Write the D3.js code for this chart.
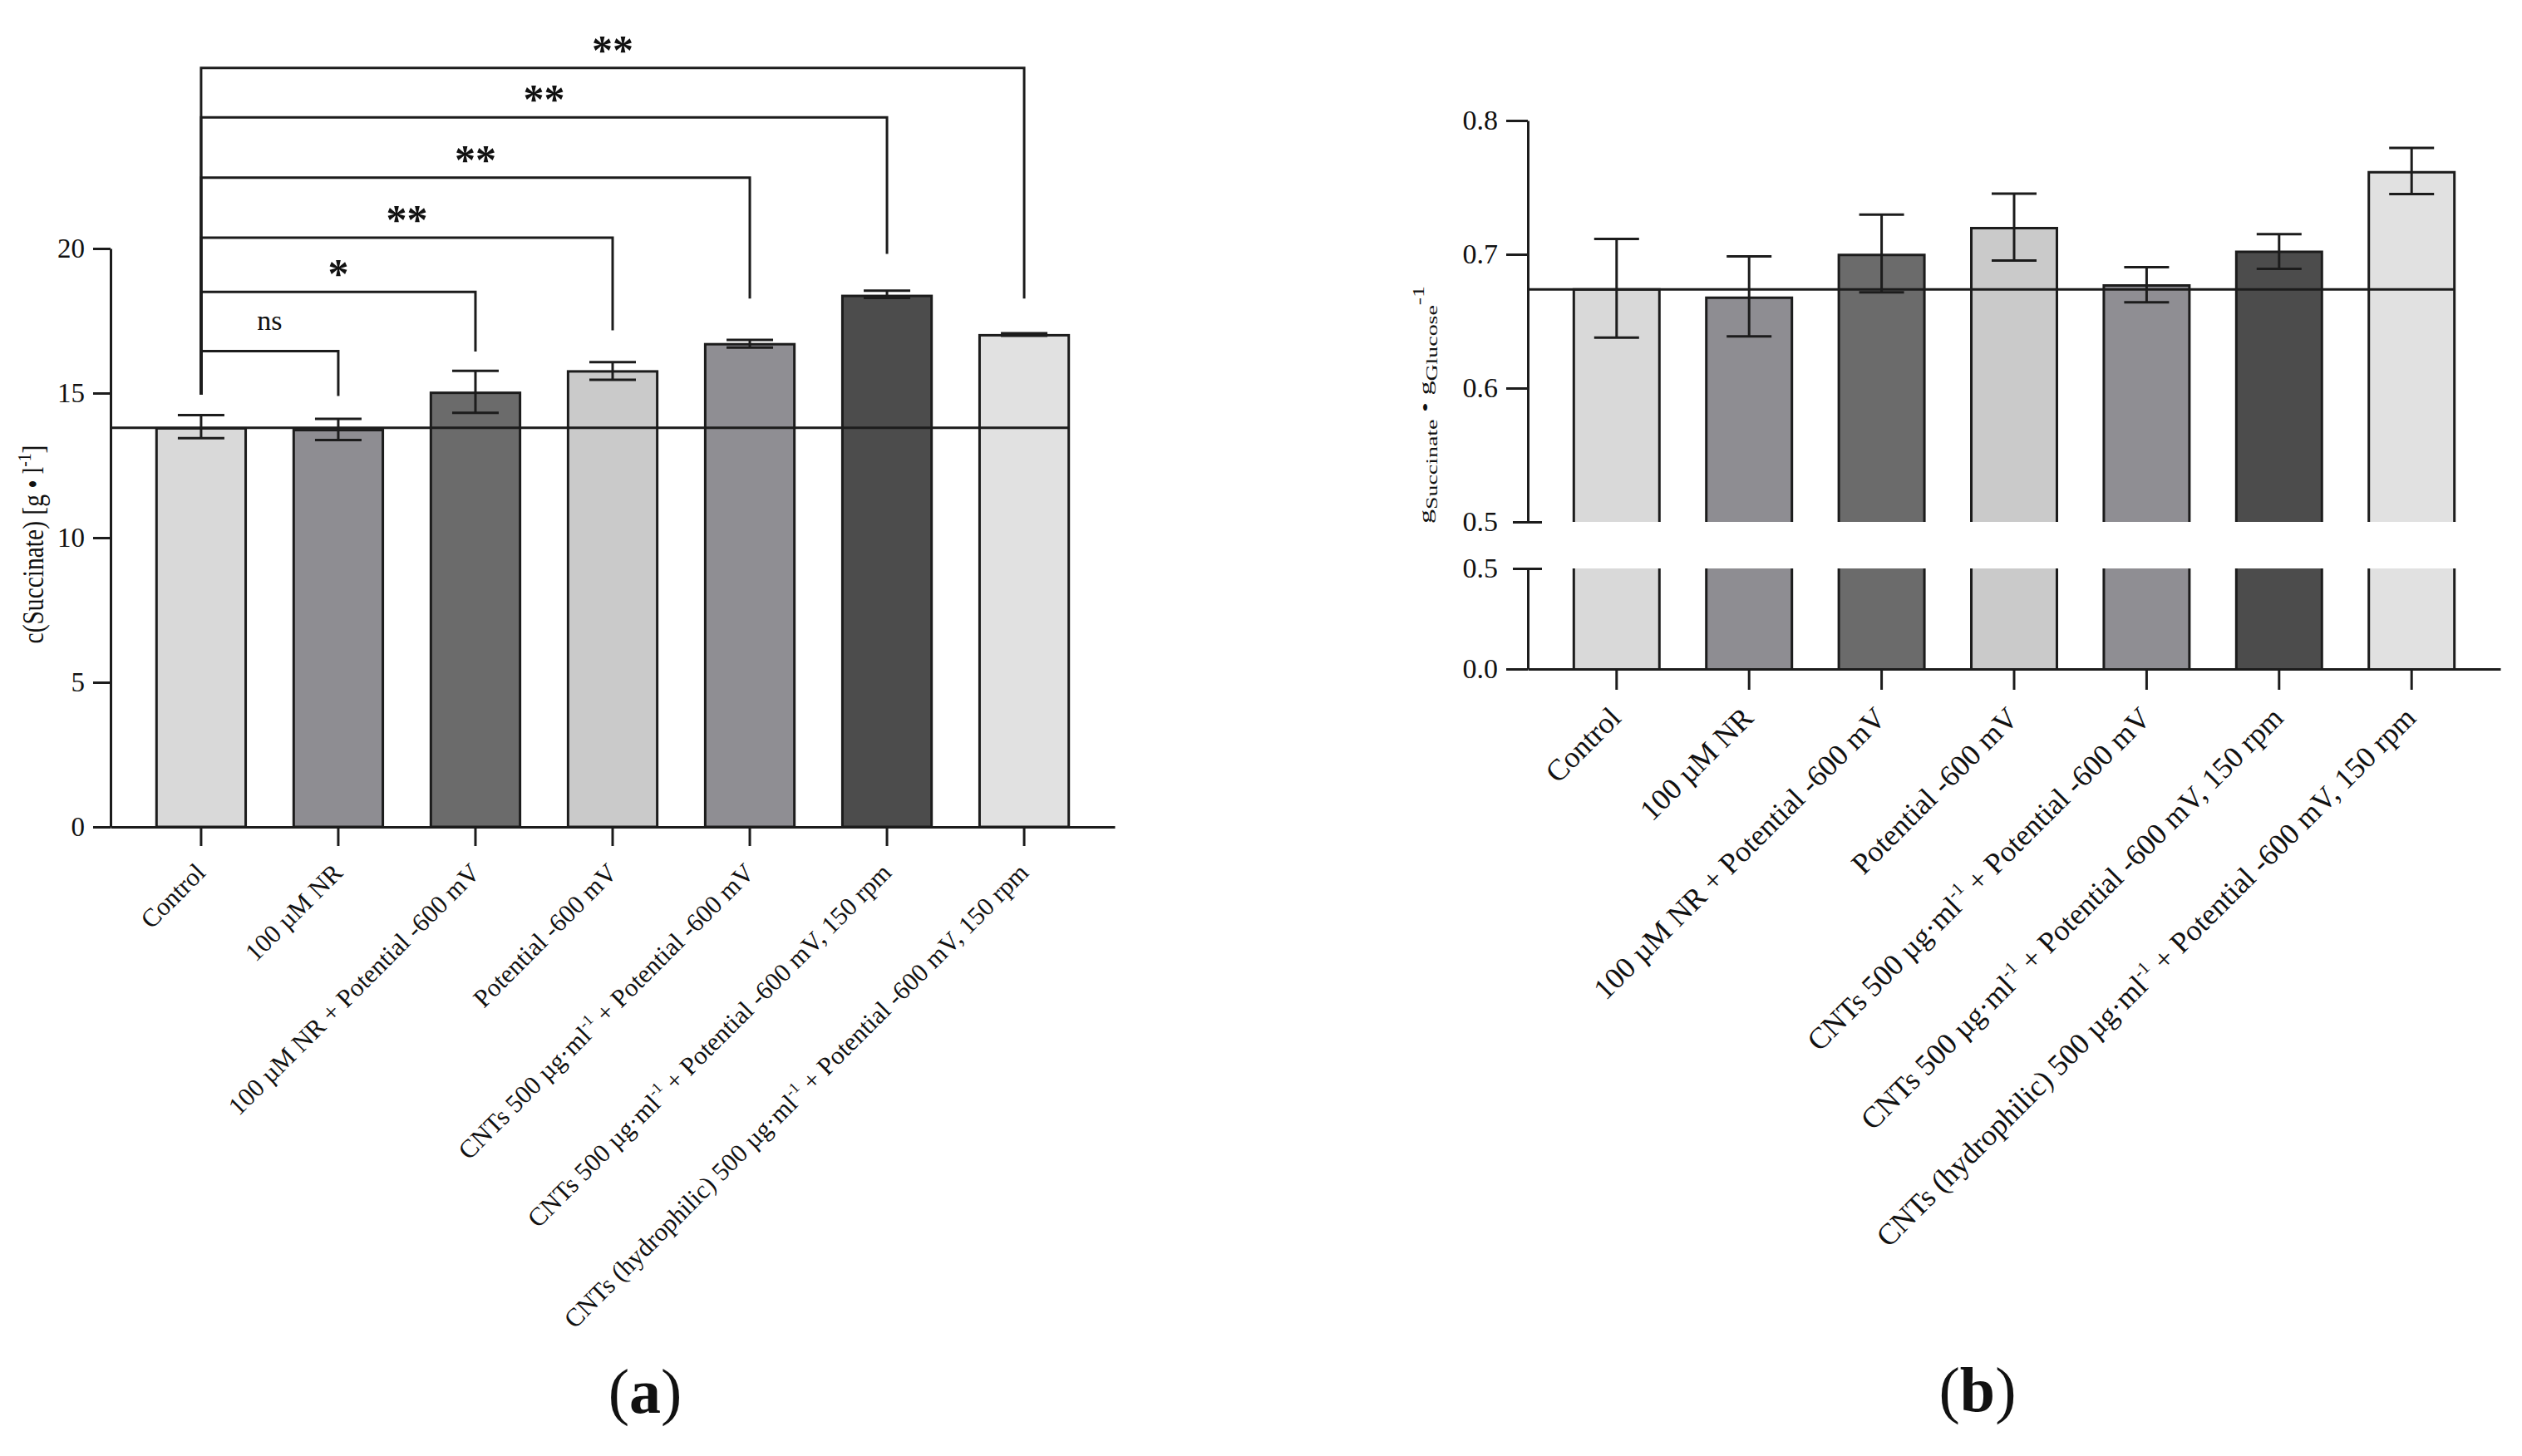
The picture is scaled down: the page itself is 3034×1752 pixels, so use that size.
<!DOCTYPE html>
<html>
<head>
<meta charset="utf-8">
<script src="https://cdn.jsdelivr.net/npm/d3@7"></script>
<style>
	body { margin: 0; background: #fff; }
	svg { display: block; font-family: "Liberation Serif", "Times New Roman", serif; }
</style>
</head>
<body>
<div id="chart"></div>
<script>
// categories, superscripts written as ^{..}
const categories = [
	"Control",
	"100 µM NR",
	"100 µM NR + Potential -600 mV",
	"Potential -600 mV",
	"CNTs 500 µg·ml^{-1} + Potential -600 mV",
	"CNTs 500 µg·ml^{-1} + Potential -600 mV, 150 rpm",
	"CNTs (hydrophilic) 500 µg·ml^{-1} + Potential -600 mV, 150 rpm",
];
const barColors = ["#d9d9d9", "#8e8d92", "#6b6b6b", "#cacaca", "#8f8e93", "#4c4c4c", "#e1e1e1"];

// (a) succinate concentration
const succinate = [13.78, 13.72, 15.01, 15.75, 16.69, 18.36, 17.0];
const succinateLow = [13.44, 13.38, 14.32, 15.46, 16.57, 18.29, 16.98];
const succinateHigh = [14.24, 14.11, 15.77, 16.07, 16.84, 18.54, 17.07];
const succinateControl = 13.8;
const succinateTicks = [0, 5, 10, 15, 20];

// significance brackets (all against Control)
const sigTargets = [1, 2, 3, 4, 5, 6];
const sigLabels = ["ns", "*", "**", "**", "**", "**"];
const sigLevels = [16.45, 18.5, 20.37, 22.45, 24.53, 26.24];
const sigEnds = [14.9, 16.44, 17.17, 18.27, 19.81, 18.27];
const sigStart = 14.94;

// (b) yield
const yieldValues = [0.6737, 0.6675, 0.6996, 0.7195, 0.6767, 0.7019, 0.7614];
const yieldLow = [0.6378, 0.6386, 0.6716, 0.6954, 0.6642, 0.6892, 0.745];
const yieldHigh = [0.7115, 0.6984, 0.7296, 0.7453, 0.6904, 0.715, 0.7795];
const yieldControl = 0.6737;
const yieldUpperTicks = [0.5, 0.6, 0.7, 0.8];
const yieldLowerTicks = [0, 0.5];
const yieldBreak = 0.5;

const ink = "#1c1c1c";
const lw = 3;

const svg = d3.select("#chart").append("svg").attr("width", 3034).attr("height", 1752);

// text with ^{sup} and _{sub} parts
function richText(sel, str, size, small) {
	const re = /([_^])\{([^}]*)\}/g;
	let last = 0, shift = 0, m;
	const put = (t, fs, target) => {
		sel.append("tspan").attr("font-size", fs).attr("dy", target - shift).text(t);
		shift = target;
	};
	while ((m = re.exec(str))) {
		if (m.index > last) put(str.slice(last, m.index), size, 0);
		put(m[2], small, m[1] === "^" ? -size * 0.42 : size * 0.32);
		last = re.lastIndex;
	}
	if (last < str.length) put(str.slice(last), size, 0);
}

function styleAxis(g, fs) {
	g.select(".domain").attr("stroke", ink).attr("stroke-width", lw);
	g.selectAll(".tick line").attr("stroke", ink).attr("stroke-width", lw);
	g.selectAll(".tick text").attr("fill", "#111").style("font-size", fs + "px").style("font-family", "Liberation Serif");
}

function errorBars(g, x, y, vals, lo, hi, cap) {
	vals.forEach((v, i) => {
		const cx = x(i) + x.bandwidth() / 2;
		g.append("line").attr("x1", cx).attr("x2", cx).attr("y1", y(lo[i])).attr("y2", y(hi[i]));
		[lo[i], hi[i]].forEach((e) => {
			g.append("line").attr("x1", cx - cap / 2).attr("x2", cx + cap / 2).attr("y1", y(e)).attr("y2", y(e));
		});
	});
	g.attr("stroke", ink).attr("stroke-width", lw);
}

function xLabels(g, x, yTop, fs) {
	categories.forEach((c, i) => {
		const cx = x(i) + x.bandwidth() / 2;
		const t = g
			.append("text")
			.attr("transform", `translate(${cx + 7}, ${yTop}) rotate(-45)`)
			.attr("text-anchor", "end")
			.attr("fill", "#111");
		richText(t, c, fs, fs * 0.6);
	});
}

// ---------- (a) ----------
const gA = svg.append("g");
const xA = d3.scaleBand().domain(d3.range(categories.length)).range([133, 1341]).paddingInner(0.35).paddingOuter(0.335);
const yA = d3.scaleLinear().domain([0, 20]).range([995, 299]);

gA.selectAll("rect.bar")
	.data(succinate)
	.join("rect")
	.attr("class", "bar")
	.attr("x", (d, i) => xA(i))
	.attr("y", (d) => yA(d))
	.attr("width", xA.bandwidth())
	.attr("height", (d) => yA(0) - yA(d))
	.attr("fill", (d, i) => barColors[i])
	.attr("stroke", ink)
	.attr("stroke-width", lw);

errorBars(gA.append("g"), xA, yA, succinate, succinateLow, succinateHigh, 56);

// control reference line
gA.append("line")
	.attr("x1", xA.range()[0])
	.attr("x2", xA(categories.length - 1) + xA.bandwidth())
	.attr("y1", yA(succinateControl))
	.attr("y2", yA(succinateControl))
	.attr("stroke", ink)
	.attr("stroke-width", lw);

const axA = gA.append("g").attr("transform", `translate(${xA.range()[0]},0)`).call(d3.axisLeft(yA).tickValues(succinateTicks).tickSize(21).tickPadding(10).tickSizeOuter(0));
styleAxis(axA, 33);
const axAx = gA.append("g").attr("transform", `translate(0,${yA(0)})`).call(d3.axisBottom(xA).tickSize(23).tickSizeOuter(0).tickFormat(""));
styleAxis(axAx, 30);

// significance brackets
const cx0 = xA(0) + xA.bandwidth() / 2;
sigTargets.forEach((t, k) => {
	const cx1 = xA(t) + xA.bandwidth() / 2;
	gA.append("path")
		.attr("d", `M${cx0},${yA(sigStart)}V${yA(sigLevels[k])}H${cx1}V${yA(sigEnds[k])}`)
		.attr("fill", "none")
		.attr("stroke", ink)
		.attr("stroke-width", lw);
	const isNs = sigLabels[k] === "ns";
	gA.append("text")
		.attr("x", (cx0 + cx1) / 2)
		.attr("y", yA(sigLevels[k]) - (isNs ? 26 : 5))
		.attr("text-anchor", "middle")
		.attr("font-size", isNs ? 34 : 50)
		.attr("font-weight", isNs ? "normal" : "bold")
		.attr("fill", "#111")
		.text(sigLabels[k]);
});

const yLabA = gA.append("text").attr("transform", "translate(52,655) rotate(-90) scale(0.82,1)").attr("text-anchor", "middle").attr("fill", "#111");
richText(yLabA, "c(Succinate) [g • l^{-1}]", 36, 24);

xLabels(gA, xA, 1052, 31);

const capA = svg.append("text").attr("x", 776).attr("y", 1700).attr("text-anchor", "middle").attr("font-size", 76).attr("fill", "#111");
capA.append("tspan").text("(");
capA.append("tspan").attr("font-weight", "bold").text("a");
capA.append("tspan").text(")");

// ---------- (b) ----------
const gB = svg.append("g");
const xB = d3.scaleBand().domain(d3.range(categories.length)).range([1838, 3008]).paddingInner(0.354).paddingOuter(0.347);
const yU = d3.scaleLinear().domain([yieldBreak, 0.8]).range([628, 145]);
const yL = d3.scaleLinear().domain([0, yieldBreak]).range([805, 684]);

// upper segment bars (no bottom edge)
yieldValues.forEach((v, i) => {
	const x0 = xB(i), x1 = xB(i) + xB.bandwidth();
	gB.append("rect").attr("x", x0).attr("y", yU(v)).attr("width", xB.bandwidth()).attr("height", yU(yieldBreak) - yU(v)).attr("fill", barColors[i]);
	gB.append("path")
		.attr("d", `M${x0},${yU(yieldBreak)}V${yU(v)}H${x1}V${yU(yieldBreak)}`)
		.attr("fill", "none").attr("stroke", ink).attr("stroke-width", lw);
	// lower segment, full bar up to the break
	gB.append("rect").attr("x", x0).attr("y", yL(yieldBreak)).attr("width", xB.bandwidth()).attr("height", yL(0) - yL(yieldBreak)).attr("fill", barColors[i]);
	gB.append("path")
		.attr("d", `M${x0},${yL(yieldBreak)}V${yL(0)}M${x1},${yL(yieldBreak)}V${yL(0)}`)
		.attr("fill", "none").attr("stroke", ink).attr("stroke-width", lw);
});

errorBars(gB.append("g"), xB, yU, yieldValues, yieldLow, yieldHigh, 54);

gB.append("line")
	.attr("x1", xB.range()[0])
	.attr("x2", xB(categories.length - 1) + xB.bandwidth())
	.attr("y1", yU(yieldControl))
	.attr("y2", yU(yieldControl))
	.attr("stroke", ink)
	.attr("stroke-width", lw);

const fmt = d3.format(".1f");
const axU = gB.append("g").attr("transform", `translate(${xB.range()[0]},0)`).call(d3.axisLeft(yU).tickValues(yieldUpperTicks).tickSize(26).tickPadding(10).tickSizeOuter(0).tickFormat(fmt));
const axL = gB.append("g").attr("transform", `translate(${xB.range()[0]},0)`).call(d3.axisLeft(yL).tickValues(yieldLowerTicks).tickSize(26).tickPadding(10).tickSizeOuter(0).tickFormat(fmt));
[axU, axL].forEach((ax) => {
	styleAxis(ax, 34);
	// break marks straddle the axis
	ax.selectAll(".tick").filter((d) => d === yieldBreak).select("line").attr("x1", -18).attr("x2", 17);
});
const axBx = gB.append("g").attr("transform", `translate(0,${yL(0)})`).call(d3.axisBottom(xB).tickSize(25).tickSizeOuter(0).tickFormat(""));
styleAxis(axBx, 34);

const yLabB = gB.append("text").attr("transform", "translate(1722,487) rotate(-90) scale(1.55,1)").attr("text-anchor", "middle").attr("fill", "#111");
richText(yLabB, "g_{Succinate} • g_{Glucose}^{-1}", 22, 18);

xLabels(gB, xB, 866, 36);

const capB = svg.append("text").attr("x", 2379).attr("y", 1698).attr("text-anchor", "middle").attr("font-size", 76).attr("fill", "#111");
capB.append("tspan").text("(");
capB.append("tspan").attr("font-weight", "bold").text("b");
capB.append("tspan").text(")");
</script>
</body>
</html>
